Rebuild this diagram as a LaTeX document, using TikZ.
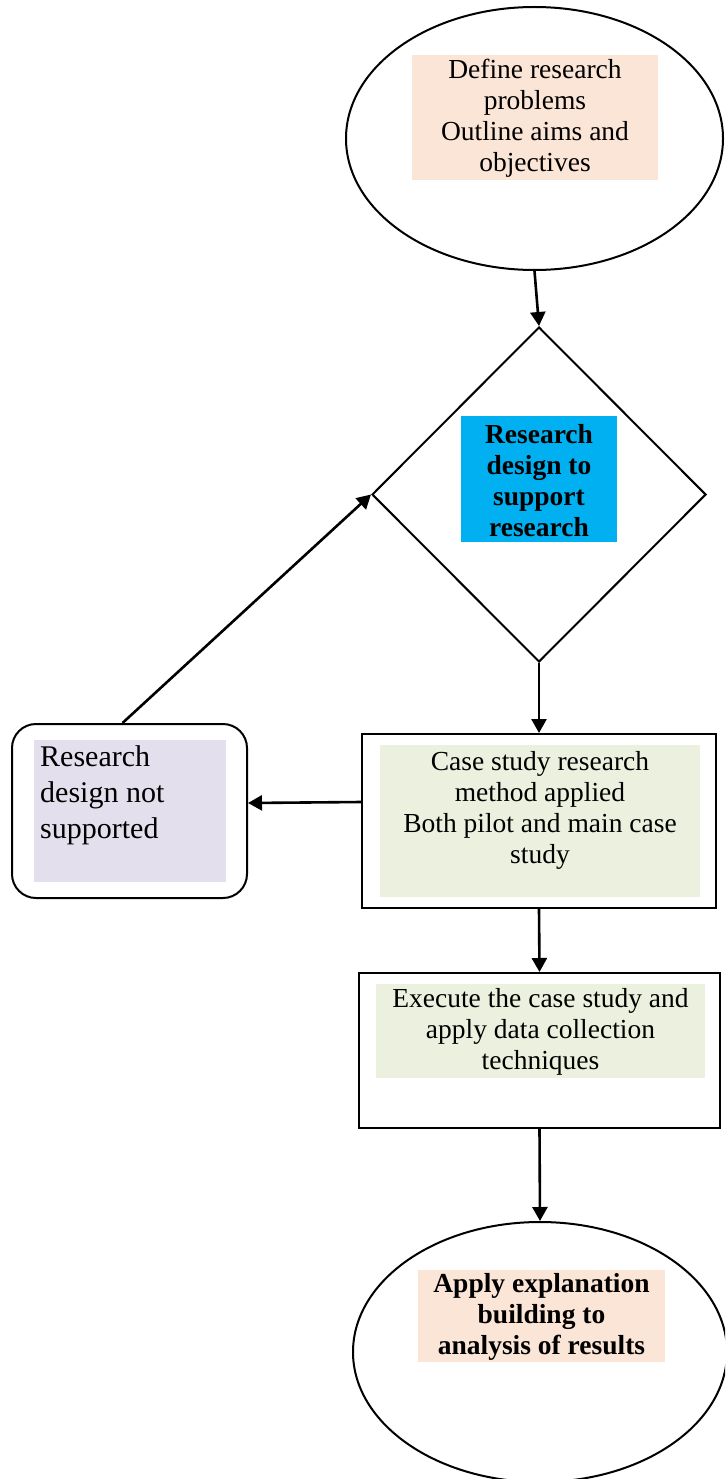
\documentclass[tikz,border=0pt]{standalone}
\usepackage{fontspec}
\setmainfont{Liberation Serif}
\usetikzlibrary{shapes.geometric,arrows.meta,calc}
\definecolor{peach}{HTML}{FBE5D6}
\definecolor{skyblue}{HTML}{00B0F0}
\definecolor{palegreen}{HTML}{EBF1DE}
\definecolor{lavender}{HTML}{E4DFEC}
\begin{document}
\begin{tikzpicture}[x=1pt,y=-1pt,
  outline/.style={draw=black,line width=2pt},
  conn/.style={line width=2.6pt,-{Triangle[length=14pt,width=15pt]}},
  bodytext/.style={font=\fontsize{27.5}{31}\selectfont,align=center},
  boldtext/.style={font=\fontsize{27.5}{31}\selectfont\bfseries,align=center},
  fillbox/.style={inner sep=0pt,outer sep=0pt}]
\clip (0,0) rectangle (725,1479);
\fill[white] (0,0) rectangle (725,1479);

% outlines of the flow shapes
\node[ellipse,outline,minimum width=377pt,minimum height=263pt] (start) at (534.5,138.5) {};
\node[diamond,outline,inner sep=0pt,minimum width=334pt,minimum height=335pt] (dec) at (539,494.5) {};
\node[rectangle,outline,minimum width=354pt,minimum height=174pt] (method) at (539,821) {};
\node[rectangle,outline,rounded corners=24pt,minimum width=235pt,minimum height=174pt] (fail) at (129.5,811) {};
\node[rectangle,outline,minimum width=361pt,minimum height=155pt] (exec) at (539.5,1050.5) {};
\node[ellipse,outline,minimum width=374pt,minimum height=260pt] (end) at (540,1352) {};

% shaded text panels
\node[fillbox,fill=peach,minimum width=246pt,minimum height=125pt] (startbg) at (535,117.5) {};
\node[bodytext] (starttxt) at (535,118) {Define research\\problems\\Outline aims and\\objectives};

\node[fillbox,fill=skyblue,minimum width=156pt,minimum height=126pt] (decbg) at (539,479) {};
\node[boldtext] (dectxt) at (539,481) {Research\\design to\\support\\research};

\node[fillbox,fill=palegreen,minimum width=320pt,minimum height=152pt] (methodbg) at (540,821) {};
\node[bodytext] (methodtxt) at (540,810) {Case study research\\method applied\\Both pilot and main case\\study};

\node[fillbox,fill=lavender,minimum width=192pt,minimum height=142pt] (failbg) at (130,811) {};
\node[font=\fontsize{30}{36}\selectfont,align=left,anchor=west,inner sep=0pt] (failtxt) at (40,795) {Research\\design not\\supported};

\node[fillbox,fill=palegreen,minimum width=329pt,minimum height=94pt] (execbg) at (540.5,1031) {};
\node[bodytext] (exectxt) at (540.5,1032) {Execute the case study and\\apply data collection\\techniques};

\node[fillbox,fill=peach,minimum width=247pt,minimum height=92pt] (endbg) at (541.5,1316) {};
\node[boldtext] (endtxt) at (541.5,1317) {Apply explanation\\building to\\analysis of results};

% connectors
\draw[conn] (start.south) -- (dec.north);
\draw[conn] (dec.south) -- (method.north);
\draw[conn] ([yshift=19pt]method.west) -- ([yshift=8pt]fail.east);
\draw[conn] ([xshift=-7pt]fail.north) -- (dec.west);
\draw[conn] (method.south) -- (exec.north);
\draw[conn] (exec.south) -- (end.north);
\end{tikzpicture}
\end{document}
